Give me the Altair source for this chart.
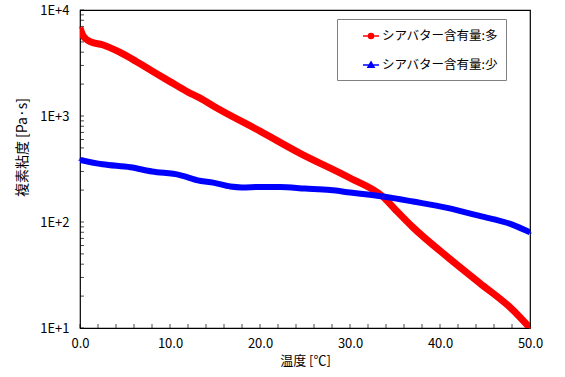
import altair as alt
import pandas as pd

# ---- data ----
series_names = ["シアバター含有量:多", "シアバター含有量:少"]
series_colors = ["#ff0000", "#0000ff"]

temp_hi = [0, 0.3, 0.7, 1.2, 2.5, 4.4, 6.3, 8, 10, 12, 13.3, 15, 20, 24.4, 30, 33.7, 35, 37, 40.8, 44.4, 48.1, 50]
visc_hi = [6800, 5800, 5300, 5000, 4700, 4000, 3250, 2660, 2110, 1680, 1480, 1215, 720, 447, 260, 172, 132, 89, 47, 26.6, 14.8, 10]

temp_lo = [0, 2.5, 5.6, 8, 11.1, 13.3, 14.8, 16.7, 18, 20, 22.2, 25, 27.8, 30, 33.7, 37, 40.8, 44.4, 48.1, 50]
visc_lo = [385, 350, 328, 300, 277, 245, 235, 216, 212, 214, 214, 207, 200, 190, 174, 156, 136, 114, 94, 80]

x_major = [0, 10, 20, 30, 40, 50]
x_minor = list(range(0, 51, 2))
y_major = [10, 100, 1000, 10000]
y_minor = [k * 10 ** d for d in (1, 2, 3) for k in range(1, 10)] + [10000]

FONT = "Noto Sans CJK JP"

df = pd.concat([
    pd.DataFrame({"temp": temp_hi, "visc": visc_hi, "series": series_names[0]}),
    pd.DataFrame({"temp": temp_lo, "visc": visc_lo, "series": series_names[1]}),
], ignore_index=True)
df_hi = df[df.series == series_names[0]].reset_index(drop=True)
df_lo = df[df.series == series_names[1]].reset_index(drop=True)

x_enc = alt.X("temp:Q",
              scale=alt.Scale(domain=[0, 50], nice=False, zero=False),
              axis=alt.Axis(values=x_major, format=".1f", title="温度 [℃]",
                            ticks=False, grid=False, domain=False, labelFlush=False,
                            labelPadding=9, labelFontSize=13, labelFont=FONT,
                            labelColor="#000", titleColor="#000",
                            titleFont=FONT, titleFontSize=13, titleFontWeight="normal",
                            titleY=32, titleBaseline="middle"))
y_enc = alt.Y("visc:Q",
              scale=alt.Scale(type="log", domain=[10, 10000], nice=False),
              axis=alt.Axis(values=y_major, title="複素粘度 [Pa·s]",
                            labelExpr="'1E+' + format(log(datum.value)/LN10, '.0f')",
                            ticks=False, grid=False, domain=False, labelFlush=False,
                            labelPadding=11, labelFontSize=13, labelFont=FONT,
                            labelColor="#000", titleColor="#000",
                            titleFont=FONT, titleFontSize=14, titleFontWeight="normal",
                            titleX=-58, titleY=137, titleAngle=270,
                            titleAlign="center", titleBaseline="middle"))

red_line = alt.Chart(df_hi).mark_line(strokeWidth=7, interpolate="monotone", clip=True,
                                      color=series_colors[0]).encode(x=x_enc, y=y_enc)
blue_line = alt.Chart(df_lo).mark_line(strokeWidth=6, interpolate="monotone", clip=True,
                                       color=series_colors[1]).encode(x=x_enc, y=y_enc)

sym_circle = "M-1,0L1,0M-0.32,0A0.32,0.32 0 1,0 0.32,0A0.32,0.32 0 1,0 -0.32,0Z"
sym_tri = "M-1,0L1,0M0,-0.38L0.38,0.28L-0.38,0.28Z"

leg = alt.Legend(title=None, orient="none", legendX=257, legendY=9,
                 padding=8, strokeColor="#808080", fillColor="white",
                 rowPadding=13, symbolOffset=17, labelOffset=2,
                 labelFont=FONT, labelFontSize=12.5, labelColor="#000",
                 symbolSize=256, symbolStrokeWidth=1.5, symbolOpacity=1)

points = alt.Chart(df).mark_point(filled=True, size=1).encode(
    x=x_enc, y=y_enc,
    fill=alt.Fill("series:N", scale=alt.Scale(domain=series_names, range=series_colors), legend=leg),
    stroke=alt.Stroke("series:N", scale=alt.Scale(domain=series_names, range=series_colors), legend=leg),
    shape=alt.Shape("series:N", scale=alt.Scale(domain=series_names, range=[sym_circle, sym_tri]), legend=leg),
)

x_ticks = alt.Chart(pd.DataFrame({"temp": x_minor})).mark_tick(
    color="#000", thickness=1, size=4).encode(x=x_enc, y=alt.value(316))
y_ticks = alt.Chart(pd.DataFrame({"visc": y_minor})).mark_tick(
    color="#000", thickness=1, size=4).encode(y=y_enc, x=alt.value(2))

chart = alt.layer(x_ticks, y_ticks, red_line, blue_line, points).properties(
    width=450, height=318,
    autosize=alt.AutoSizeParams(type="none"),
    padding={"left": 80, "top": 10, "right": 35, "bottom": 49},
    background="white",
).configure_view(stroke="#000", strokeWidth=1.2)

chart.save("out.html", embed_options={"renderer": "svg", "actions": False})
